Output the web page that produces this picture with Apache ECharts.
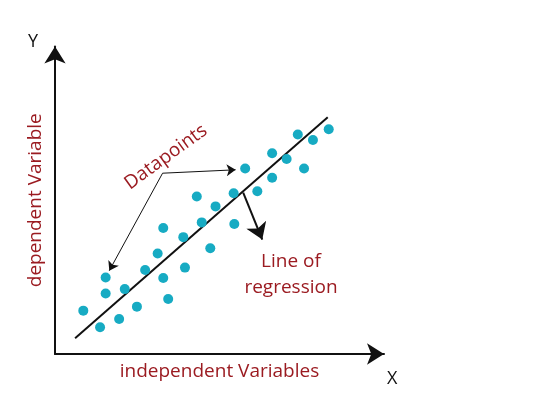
<!DOCTYPE html>
<html>
<head>
<meta charset="utf-8">
<script src="https://cdn.jsdelivr.net/npm/echarts@6/dist/echarts.min.js"></script>
<style>html,body{margin:0;padding:0;background:#fff}#c{width:553px;height:398px}</style>
</head>
<body>
<div id="c"></div>
<script>
// Data points (x, y), axes 0-100
const pointX = [8.6,13.7,15.4,15.4,19.5,21.2,24.9,27.4,31.2,32.9,32.9,34.4,39.0,39.5,43.1,44.6,47.2,48.8,54.3,54.5,57.8,61.5,66.0,66.0,70.4,73.8,75.7,78.4,83.2];
const pointY = [14.1,8.7,24.9,19.7,11.4,21.1,15.4,27.3,32.7,24.7,41.0,17.9,38.0,28.1,51.2,42.8,34.4,48.0,52.3,42.3,60.3,52.9,57.3,65.3,63.4,71.4,60.3,69.6,73.1];
// Regression line end points
const lineX = [6.1, 82.9];
const lineY = [5.1, 77.0];
// Annotation arrows
const dpVertex = [32.7, 58.8];
const dpTargets = [[54.9, 59.9], [16.5, 27.1]];
const regArrow = [[57.2, 52.5], [63.0, 37.2]];
// Texts
const xName = 'independent Variables';
const yName = 'dependent Variable';
const dpLabel = 'Datapoints';
const regLabel = 'Line of\nregression';

const RED = '#9b1b21';
const TEAL = '#17abc3';
const FONT = '"Open Sans", "Noto Sans", sans-serif';

const chart = echarts.init(document.getElementById('c'), null, {renderer: 'canvas'});
const axisCommon = {
  type: 'value', min: 0, max: 100,
  splitLine: {show: false}, axisTick: {show: false}, axisLabel: {show: false},
  axisLine: {show: true, symbol: ['none', 'arrow'], symbolSize: [16, 17],
    lineStyle: {color: '#111', width: 2}},
  nameLocation: 'middle',
  nameTextStyle: {color: RED, fontSize: 19, fontFamily: FONT}
};
chart.setOption({
  animation: false,
  backgroundColor: '#fff',
  grid: {left: 55, top: 46.5, right: 169, bottom: 44},
  xAxis: Object.assign({}, axisCommon, {name: xName, nameGap: 8}),
  yAxis: Object.assign({}, axisCommon, {name: yName, nameGap: 10}),
  graphic: [
    {type: 'text', left: 28, top: 33, style: {text: 'Y', fill: '#111', font: '18px ' + FONT}},
    {type: 'text', left: 387, top: 370, style: {text: 'X', fill: '#111', font: '18px ' + FONT}},
    {type: 'text', x: 166, y: 157, rotation: 36 * Math.PI / 180,
      style: {text: dpLabel, fill: RED, font: '19px ' + FONT, align: 'center', verticalAlign: 'middle'}},
    {type: 'text', x: 291, y: 275,
      style: {text: regLabel, fill: RED, font: '19px ' + FONT, align: 'center', verticalAlign: 'middle', lineHeight: 26}}
  ],
  series: [
    {
      type: 'line', data: lineX.map((x, i) => [x, lineY[i]]),
      showSymbol: false, lineStyle: {color: '#111', width: 2}, z: 2
    },
    {
      type: 'scatter', data: pointX.map((x, i) => [x, pointY[i]]),
      symbolSize: 10, itemStyle: {color: TEAL, opacity: 1}, z: 3
    },
    {
      type: 'lines', coordinateSystem: 'cartesian2d',
      data: dpTargets.map(t => ({coords: [dpVertex, t]})),
      symbol: ['none', 'arrow'], symbolSize: [7, 9],
      lineStyle: {color: '#111', width: 1, opacity: 1, curveness: 0}, z: 4
    },
    {
      type: 'lines', coordinateSystem: 'cartesian2d',
      data: [{coords: regArrow}],
      symbol: ['none', 'arrow'], symbolSize: [13, 16],
      lineStyle: {color: '#111', width: 2, opacity: 1, curveness: 0}, z: 4
    }
  ]
});
</script>
</body>
</html>
